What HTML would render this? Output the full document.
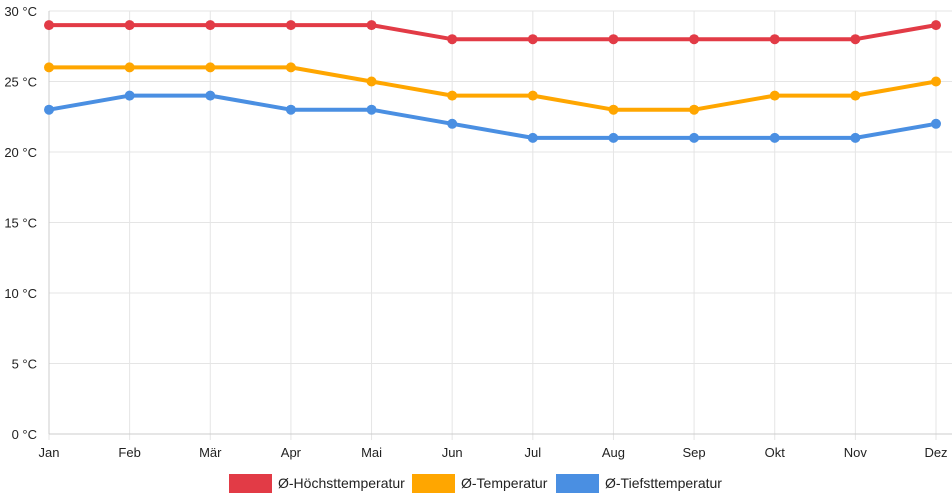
<!DOCTYPE html>
<html><head><meta charset="utf-8"><style>
html,body{margin:0;padding:0;background:#fff;}
svg{display:block;font-family:"Liberation Sans",sans-serif;}
</style></head><body>
<svg id="chart" width="952" height="500"></svg>
<script>
const months=["Jan","Feb","Mär","Apr","Mai","Jun","Jul","Aug","Sep","Okt","Nov","Dez"];
const highTemps=[29,29,29,29,29,28,28,28,28,28,28,29];
const meanTemps=[26,26,26,26,25,24,24,23,23,24,24,25];
const lowTemps=[23,24,24,23,23,22,21,21,21,21,21,22];
const yTicks=[0,5,10,15,20,25,30];
const seriesNames=["Ø-Höchsttemperatur","Ø-Temperatur","Ø-Tiefsttemperatur"];
const NS="http://www.w3.org/2000/svg";
const svg=document.getElementById("chart");
const x0=49,x1=936,yTop=11,yBot=434,yMax=30;
const xS=i=>x0+i*(x1-x0)/(months.length-1);
const yS=v=>yBot-v/yMax*(yBot-yTop);
function mk(t,a,p){const e=document.createElementNS(NS,t);for(const k in a)e.setAttribute(k,a[k]);(p||svg).appendChild(e);return e;}
const grid=mk("g",{});


yTicks.forEach(v=>{
 mk("line",{x1:x0,x2:x1+16,y1:yS(v),y2:yS(v),stroke:"#e5e5e5","stroke-width":1},grid);
 const t=mk("text",{x:37,y:yS(v)+5,"text-anchor":"end","font-size":13,fill:"#222"});
 t.textContent=v+" °C";
 
 
});
months.forEach((m,i)=>{
 mk("line",{x1:xS(i),x2:xS(i),y1:yTop,y2:yBot+6,stroke:"#e5e5e5","stroke-width":1},grid);
 const t=mk("text",{x:xS(i),y:457,"text-anchor":"middle","font-size":13,fill:"#222"});
 t.textContent=m;
 
 
});
mk("line",{x1:x0,x2:x0,y1:yTop,y2:yBot,stroke:"#ccc"});
mk("line",{x1:x0,x2:x1+16,y1:yBot,y2:yBot,stroke:"#ccc"});
const colors=["#e23b46","#ffa600","#4a8fe2"];
[highTemps,meanTemps,lowTemps].forEach((d,s)=>{
 const g=mk("g",{});
 
 
 mk("polyline",{points:d.map((v,i)=>xS(i)+","+yS(v)).join(" "),fill:"none",stroke:colors[s],"stroke-width":4,"stroke-linejoin":"round"},g);
 d.forEach((v,i)=>{
  const c=mk("circle",{cx:xS(i),cy:yS(v),r:5,fill:colors[s]},g);
  
  
 });
});
const lx=[229,412,556];
seriesNames.forEach((n,s)=>{
 const g=mk("g",{});
 
 
 mk("rect",{x:lx[s],y:474,width:43,height:19,fill:colors[s]},g);
 const t=mk("text",{x:lx[s]+49,y:488,"font-size":14,fill:"#222"},g);
 t.textContent=n;
});
</script>
</body></html>
